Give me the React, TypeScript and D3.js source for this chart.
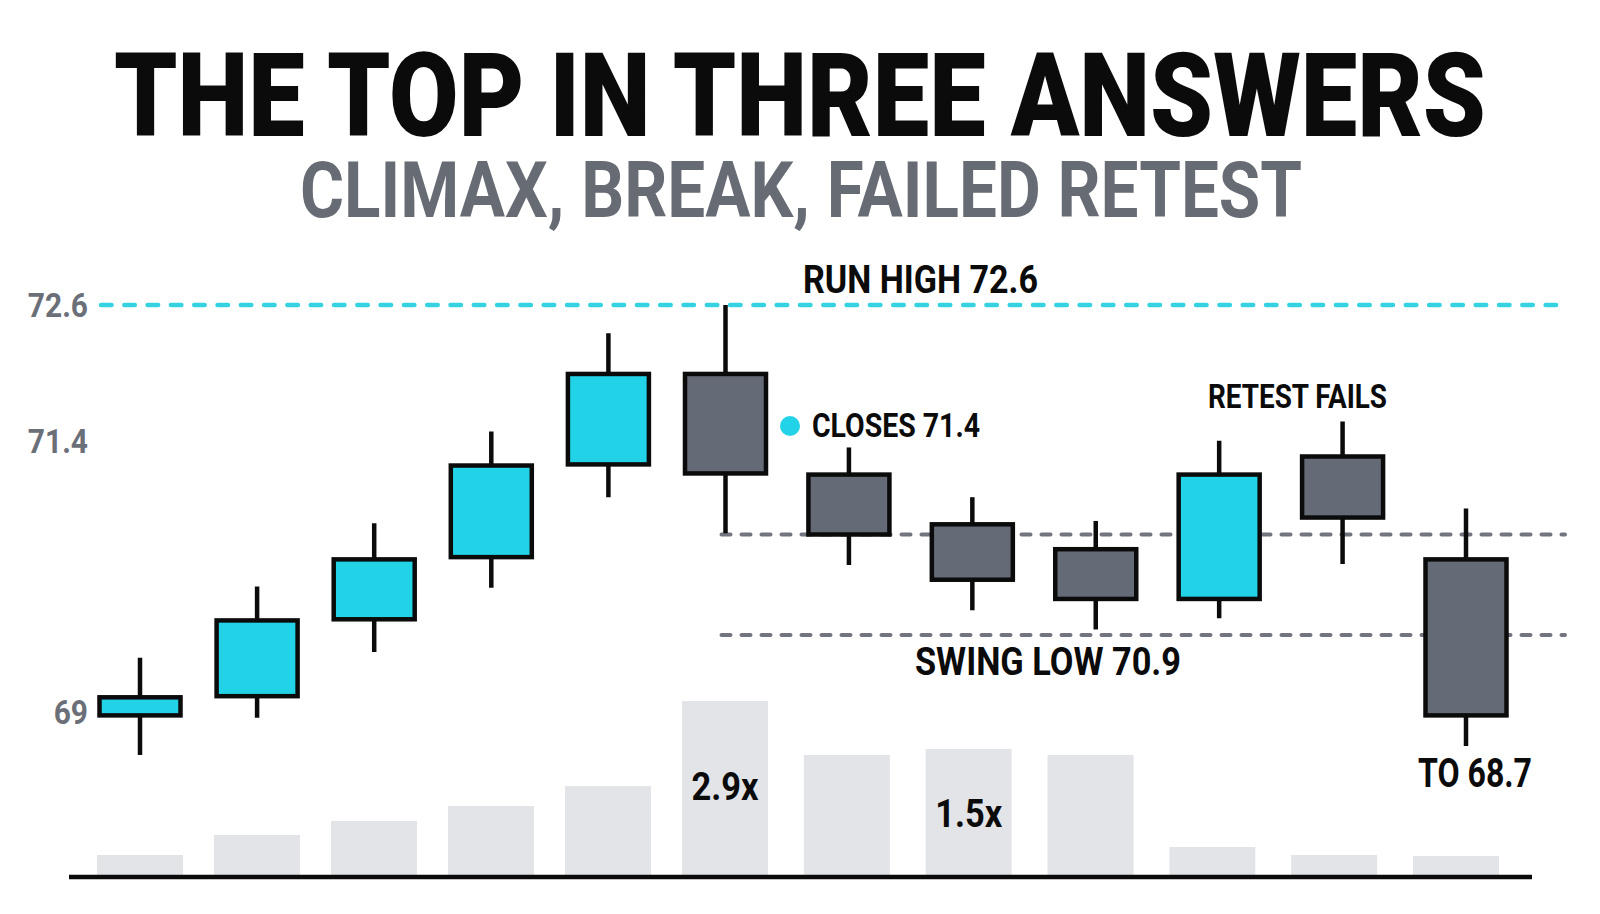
import React, { useLayoutEffect, useRef, useState } from "react";
import * as d3 from "d3";

// ---- data ----
const bars = ["B1", "B2", "B3", "B4", "B5", "B6", "B7", "B8", "B9", "B10", "B11", "B12"];
const opens = [68.97, 69.14, 69.82, 70.37, 71.19, 71.99, 71.10, 70.66, 70.44, 70.00, 71.26, 70.35];
const highs = [69.48, 70.11, 70.67, 71.48, 72.35, 72.6, 71.34, 70.90, 70.69, 71.40, 71.57, 70.80];
const lows = [68.62, 68.95, 69.53, 70.10, 70.90, 70.58, 70.30, 69.90, 69.73, 69.83, 70.31, 68.70];
const closes = [69.13, 69.81, 70.35, 71.18, 71.99, 71.11, 70.57, 70.17, 70.00, 71.10, 70.72, 68.97];
const volumes = [20, 40, 54, 69, 89, 174, 120, 126, 120, 28, 20, 19];
const priceTicks = [72.6, 71.4, 69];
const runHigh = 72.6;
const climaxLow = 70.57;
const swingLow = 69.68;
const volumeLabels = [
  { index: 5, text: "2.9x", offset: 99 },
  { index: 7, text: "1.5x", offset: 78 },
];

const CYAN = "#22d3e7";
const GREY = "#656b76";
const INK = "#0b0b0b";
const MUTED = "#6b6f78";
const FONT = "Roboto, 'Noto Sans', sans-serif";

type FitProps = {
  x: number;
  y: number;
  width: number;
  size: number;
  weight?: number;
  fill: string;
  anchor?: "start" | "middle";
  children: string;
};

// Text horizontally condensed to a target width (the reference uses a condensed face)
function FitText({ x, y, width, size, weight = 700, fill, anchor = "start", children }: FitProps) {
  const ref = useRef<SVGTextElement>(null);
  const [sx, setSx] = useState(0.85);
  useLayoutEffect(() => {
    if (ref.current) {
      const natural = ref.current.getComputedTextLength();
      if (natural > 0) setSx(width / natural);
    }
  }, [width, children, size]);
  const left = anchor === "middle" ? x - width / 2 : x;
  return (
    <text
      ref={ref}
      transform={`translate(${left},${y}) scale(${sx},1)`}
      x={0}
      y={0}
      fontFamily={FONT}
      fontWeight={weight}
      fontSize={size}
      fill={fill}
    >
      {children}
    </text>
  );
}

export default function App() {
  const W = 1600;
  const H = 914;

  const x = d3.scaleLinear().domain([0, 5, 11]).range([140, 725.5, 1466]);
  const xVol = d3.scaleLinear().domain([0, 5, 11]).range([140, 725, 1456]);
  const y = d3.scaleLinear().domain([69, 72.6]).range([712, 305]);
  const yVol = d3.scaleLinear().domain([0, 174]).range([875, 701]);

  const bodyW = 81;
  const volW = 86;

  return (
    <svg
      width={W}
      height={H}
      viewBox={`0 0 ${W} ${H}`}
      style={{ position: "fixed", left: 0, top: 0, background: "#ffffff" }}
    >
      <rect x={0} y={0} width={W} height={H} fill="#ffffff" />

      {/* titles */}
      <FitText x={114} y={136} width={1372} size={116} weight={900} fill={INK}>
        THE TOP IN THREE ANSWERS
      </FitText>
      <FitText x={300} y={217} width={1002} size={78} weight={700} fill="#676b74">
        CLIMAX, BREAK, FAILED RETEST
      </FitText>

      {/* volume bars */}
      {volumes.map((v, i) => (
        <rect
          key={"v" + bars[i]}
          x={xVol(i) - volW / 2}
          y={yVol(v)}
          width={volW}
          height={yVol(0) - yVol(v)}
          fill="#e2e4e7"
        />
      ))}
      {volumeLabels.map((l) => (
        <FitText
          key={l.text}
          x={xVol(l.index)}
          y={yVol(volumes[l.index]) + l.offset}
          width={67}
          size={38}
          fill={INK}
          anchor="middle"
        >
          {l.text}
        </FitText>
      ))}
      <line x1={69} x2={1532} y1={877} y2={877} stroke={INK} strokeWidth={4.5} />

      {/* reference lines */}
      <line
        x1={101}
        x2={1565}
        y1={y(runHigh)}
        y2={y(runHigh)}
        stroke="#35d3e2"
        strokeWidth={4.5}
        strokeDasharray="10.5 12.8"
        strokeLinecap="round"
      />
      <line
        x1={x(5) - 4}
        x2={1565}
        y1={y(climaxLow)}
        y2={y(climaxLow)}
        stroke="#72757f"
        strokeWidth={4}
        strokeDasharray="9 11"
        strokeLinecap="round"
      />
      <line
        x1={x(5) - 4}
        x2={1565}
        y1={y(swingLow)}
        y2={y(swingLow)}
        stroke="#72757f"
        strokeWidth={4}
        strokeDasharray="9 11"
        strokeLinecap="round"
      />

      {/* price tick labels */}
      {priceTicks.map((t) => (
        <text
          key={"t" + t}
          x={88}
          y={y(t)}
          dy="0.36em"
          textAnchor="end"
          fontFamily={FONT}
          fontWeight={700}
          fontSize={34}
          fill={MUTED}
          transform={`translate(${88 * 0.12},0) scale(0.88,1)`}
        >
          {String(t)}
        </text>
      ))}

      {/* candles */}
      {bars.map((b, i) => {
        const up = closes[i] >= opens[i];
        const top = y(Math.max(opens[i], closes[i]));
        const bot = y(Math.min(opens[i], closes[i]));
        return (
          <g key={b}>
            <line
              x1={x(i)}
              x2={x(i)}
              y1={y(highs[i])}
              y2={y(lows[i])}
              stroke={INK}
              strokeWidth={4.5}
            />
            <rect
              x={x(i) - bodyW / 2}
              y={top}
              width={bodyW}
              height={Math.max(bot - top, 1)}
              fill={up ? CYAN : GREY}
              stroke={INK}
              strokeWidth={4.5}
            />
          </g>
        );
      })}

      {/* annotations */}
      <FitText x={803} y={y(runHigh) - 12} width={235} size={39} fill={INK}>
        RUN HIGH 72.6
      </FitText>
      <circle cx={790} cy={426} r={10} fill={CYAN} />
      <FitText x={812} y={437} width={168} size={33} fill={INK}>
        CLOSES 71.4
      </FitText>
      <FitText x={1208} y={408} width={179} size={33} fill={INK}>
        RETEST FAILS
      </FitText>
      <FitText x={915} y={y(swingLow) + 40} width={266} size={39} fill={INK}>
        SWING LOW 70.9
      </FitText>
      <FitText x={1418} y={y(lows[11]) + 41} width={114} size={40} fill={INK}>
        TO 68.7
      </FitText>
    </svg>
  );
}
